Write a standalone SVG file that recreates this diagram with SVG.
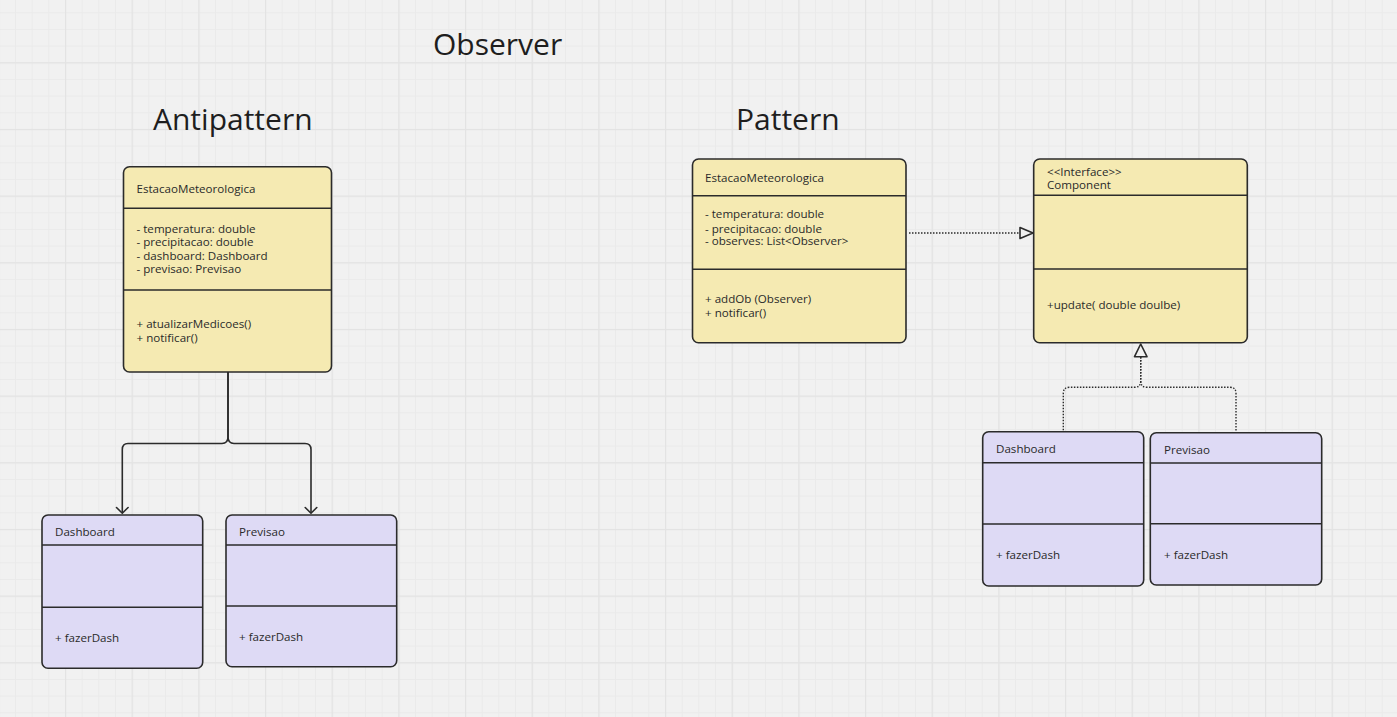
<svg xmlns="http://www.w3.org/2000/svg" width="1397" height="717" viewBox="0 0 1397 717">
<defs>
<pattern id="minor" x="-1.67" y="-4.4" width="16.667" height="16.667" patternUnits="userSpaceOnUse">
<path d="M0.5 0V16.667M0 0.5H16.667" stroke="#eaeaea" stroke-width="1" fill="none"/>
</pattern>
<pattern id="major" x="-1.67" y="-4.4" width="66.667" height="66.667" patternUnits="userSpaceOnUse">
<path d="M0.5 0V66.667M0 0.5H66.667" stroke="#e3e3e3" stroke-width="1.5" fill="none"/>
</pattern>
<style>
.title{font-family:"Open Sans","Noto Sans",sans-serif;font-size:30px;fill:#1e1e1e}
.t{font-family:"Open Sans","Noto Sans",sans-serif;font-size:11.6px;fill:#2a2a2a}
.box{stroke:#2b2b2b;stroke-width:1.6}
.y{fill:#f5eab2}
.p{fill:#dedaf5}
.div{stroke:#2b2b2b;stroke-width:1.6;fill:none}
.edge{stroke:#2b2b2b;stroke-width:1.6;fill:none}
.dot{stroke:#2b2b2b;stroke-width:1.4;fill:none;stroke-dasharray:1.5 1.5}
.head{stroke:#2b2b2b;stroke-width:1.6;fill:none;stroke-linecap:round;stroke-linejoin:round}
.tri{stroke:#2b2b2b;stroke-width:1.6;fill:#f1f1f1;stroke-linejoin:round}
</style>
</defs>
<rect width="1397" height="717" fill="#f1f1f1"/>
<rect width="1397" height="717" fill="url(#minor)"/>
<rect width="1397" height="717" fill="url(#major)"/>

<g id="titles">
<text class="title" x="433" y="55">Observer</text>
<text class="title" x="153" y="130">Antipattern</text>
<text class="title" x="736" y="130">Pattern</text>
</g>

<g id="connectors">
<path class="edge" d="M228 372V437Q228 443.5 222 443.5H128Q122.3 443.5 122.3 449.5V513"/>
<path class="edge" d="M228 372V437Q228 443.5 234 443.5H305Q311 443.5 311 449.5V513"/>
<path class="head" d="M116.5 507.5L122.3 513.3L128.1 507.5"/>
<path class="head" d="M305.2 507.5L311 513.3L316.8 507.5"/>
<path class="dot" d="M909 233H1020"/>
<path class="tri" d="M1020 227.5L1033 233L1020 238.5Z"/>
<path class="dot" d="M1140.7 357V381Q1140.7 387.3 1134.5 387.3H1069.5Q1063.3 387.3 1063.3 393.5V431"/>
<path class="dot" d="M1140.7 357V381Q1140.7 387.3 1147 387.3H1230Q1236 387.3 1236 393.5V431"/>
<path class="tri" d="M1134.5 356.7L1140.7 344L1147 356.7Z"/>
</g>

<g id="anti-estacao">
<rect class="box y" x="123.5" y="166.7" width="208" height="205.3" rx="6"/>
<path class="div" d="M123.5 208.3H331.5M123.5 290H331.5"/>
<text class="t" x="136.5" y="193">EstacaoMeteorologica</text>
<text class="t" x="136.5" y="232.7">- temperatura: double</text>
<text class="t" x="136.5" y="246.2">- precipitacao: double</text>
<text class="t" x="136.5" y="259.5">- dashboard: Dashboard</text>
<text class="t" x="136.5" y="272.7">- previsao: Previsao</text>
<text class="t" x="136.5" y="328.3">+ atualizarMedicoes()</text>
<text class="t" x="136.5" y="341.7">+ notificar()</text>
</g>

<g id="anti-dashboard">
<rect class="box p" x="42" y="515" width="160.7" height="153.3" rx="6"/>
<path class="div" d="M42 545H202.7M42 607.3H202.7"/>
<text class="t" x="55" y="535.7">Dashboard</text>
<text class="t" x="55" y="641.7">+ fazerDash</text>
</g>

<g id="anti-previsao">
<rect class="box p" x="226" y="515" width="170.7" height="151.7" rx="6"/>
<path class="div" d="M226 545H396.7M226 606H396.7"/>
<text class="t" x="239" y="535.7">Previsao</text>
<text class="t" x="239" y="640.7">+ fazerDash</text>
</g>

<g id="pat-estacao">
<rect class="box y" x="692.5" y="159" width="213.5" height="183.7" rx="6"/>
<path class="div" d="M692.5 195.7H906M692.5 269.3H906"/>
<text class="t" x="705" y="182.3">EstacaoMeteorologica</text>
<text class="t" x="705" y="218.3">- temperatura: double</text>
<text class="t" x="705" y="232.7">- precipitacao: double</text>
<text class="t" x="705" y="245">- observes: List&lt;Observer&gt;</text>
<text class="t" x="705" y="303.3">+ addOb (Observer)</text>
<text class="t" x="705" y="316.7">+ notificar()</text>
</g>

<g id="pat-component">
<rect class="box y" x="1033.7" y="159" width="213.6" height="183.7" rx="6"/>
<path class="div" d="M1033.7 195.3H1247.3M1033.7 269H1247.3"/>
<text class="t" x="1047" y="175.7">&lt;&lt;Interface&gt;&gt;</text>
<text class="t" x="1047" y="189.3">Component</text>
<text class="t" x="1047" y="309.3">+update( double doulbe)</text>
</g>

<g id="pat-dashboard">
<rect class="box p" x="982.7" y="431.7" width="161" height="154.3" rx="6"/>
<path class="div" d="M982.7 462.7H1143.7M982.7 524H1143.7"/>
<text class="t" x="996" y="453.3">Dashboard</text>
<text class="t" x="996" y="559">+ fazerDash</text>
</g>

<g id="pat-previsao">
<rect class="box p" x="1150.3" y="432.7" width="171.4" height="152.3" rx="6"/>
<path class="div" d="M1150.3 463H1321.7M1150.3 523.7H1321.7"/>
<text class="t" x="1164" y="454">Previsao</text>
<text class="t" x="1164" y="559">+ fazerDash</text>
</g>
</svg>
